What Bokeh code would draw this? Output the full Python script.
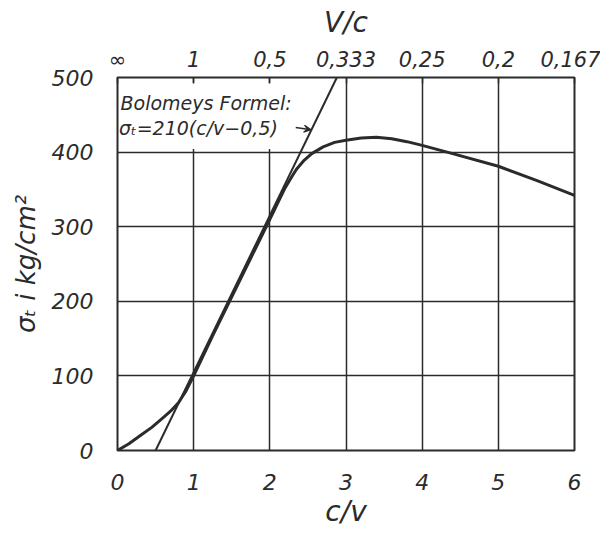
from bokeh.plotting import figure
from bokeh.models import LinearAxis, FixedTicker, Label, Arrow, VeeHead, Range1d, BoxAnnotation
from bokeh.embed import file_html
from bokeh.resources import INLINE

# ---- data ----
cv_ticks = [0, 1, 2, 3, 4, 5, 6]
vc_labels = ["∞", "1", "0,5", "0,333", "0,25", "0,2", "0,167"]
sigma_ticks = [0, 100, 200, 300, 400, 500]

curve_cv = [0, 0.15, 0.3, 0.45, 0.6, 0.7, 0.8, 0.9, 1.0, 1.25, 1.5, 1.75, 2.0, 2.2, 2.3, 2.35,
            2.45, 2.55, 2.7, 2.85, 3.0, 3.2, 3.4, 3.6, 3.8, 4.0, 4.4, 5.0, 5.5, 6.0]
curve_sigma = [0, 9, 20, 31, 44, 53, 64, 80, 100, 154, 206, 258, 310, 352, 369, 377,
               389, 398, 407, 413, 416, 419, 420, 418, 414, 409, 398, 381, 362, 342]

bolomey_cv = [0.5, 2.88]
bolomey_sigma = [0, 500]

INK = "#2b2b2b"
FONT = "DejaVu Sans"

p = figure(width=600, height=530, output_backend="svg", toolbar_location=None,
           x_range=Range1d(0, 6), y_range=Range1d(0, 500),
           min_border_left=117, min_border_right=26, min_border_top=77, min_border_bottom=67,
           background_fill_color="white", border_fill_color="white")

p.outline_line_color = INK
p.outline_line_width = 2
p.outline_line_alpha = 1

# axes
for ax in (p.xaxis[0], p.yaxis[0]):
    ax.axis_line_color = None
    ax.major_tick_line_color = None
    ax.minor_tick_line_color = None
    ax.major_label_text_font = FONT
    ax.major_label_text_font_style = "italic"
    ax.major_label_text_font_size = "22px"
    ax.major_label_text_color = INK
    ax.axis_label_text_font = FONT
    ax.axis_label_text_font_style = "italic"
    ax.axis_label_text_color = INK

p.xaxis[0].ticker = FixedTicker(ticks=cv_ticks)
p.xaxis[0].major_label_standoff = 17
p.xaxis[0].axis_label = "c/v"
p.xaxis[0].axis_label_text_font_size = "28px"
p.xaxis[0].axis_label_standoff = 2

p.yaxis[0].ticker = FixedTicker(ticks=sigma_ticks)
p.yaxis[0].major_label_standoff = 18
p.yaxis[0].axis_label = "σₜ i kg/cm²"
p.yaxis[0].axis_label_text_font_size = "26px"
p.yaxis[0].axis_label_standoff = 8

top = LinearAxis(ticker=FixedTicker(ticks=cv_ticks),
                 major_label_overrides={t: lab for t, lab in zip(cv_ticks, vc_labels)})
top.axis_line_color = None
top.major_tick_in = 6
top.major_tick_out = 0
top.major_tick_line_color = INK
top.major_tick_line_width = 1.5
top.minor_tick_line_color = None
top.major_label_text_font = FONT
top.major_label_text_font_style = "italic"
top.major_label_text_font_size = "21px"
top.major_label_text_color = INK
top.major_label_standoff = 6
top.axis_label = "V/c"
top.axis_label_text_font = FONT
top.axis_label_text_font_style = "italic"
top.axis_label_text_font_size = "28px"
top.axis_label_text_color = INK
top.axis_label_standoff = 6
p.add_layout(top, "above")

# grid
p.xgrid.ticker = FixedTicker(ticks=cv_ticks[1:-1])
p.ygrid.ticker = FixedTicker(ticks=sigma_ticks[1:-1])
for g in (p.xgrid[0], p.ygrid[0]):
    g.grid_line_color = INK
    g.grid_line_width = 1.5
    g.grid_line_alpha = 1

# blank area for the annotation text
mask = BoxAnnotation(left=0.02, right=2.45, bottom=404, top=493,
                     fill_color="white", fill_alpha=1, line_color=None, level="underlay")
p.add_layout(mask)

# Bolomey line and measured curve
p.line(bolomey_cv, bolomey_sigma, line_color=INK, line_width=2)
p.line(curve_cv, curve_sigma, line_color=INK, line_width=3, line_join="round")

# annotation
p.add_layout(Label(x=0.04, y=466, text="Bolomeys Formel:", text_font=FONT,
                   text_font_style="italic", text_font_size="19px", text_color=INK,
                   text_baseline="middle"))
p.add_layout(Label(x=0.02, y=432, text="σₜ=210(c/v−0,5)", text_font=FONT,
                   text_font_style="italic", text_font_size="19px", text_color=INK,
                   text_baseline="middle"))
p.add_layout(Arrow(end=VeeHead(size=7, line_color=INK, fill_color=INK, line_width=1.2),
                   x_start=2.34, y_start=433, x_end=2.54, y_end=430,
                   line_color=INK, line_width=1.5))

open("out.html", "w").write(file_html(p, INLINE))
